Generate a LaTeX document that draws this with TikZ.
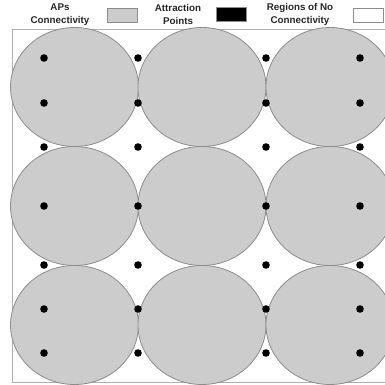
\documentclass[tikz,border=0pt]{standalone}
\usepackage{fontspec}
\setmainfont{Liberation Sans}
\usetikzlibrary{positioning}
\definecolor{zonegray}{gray}{0.80}
\definecolor{rimgray}{gray}{0.55}
\tikzset{
  apzone/.style ={fill=zonegray, draw=rimgray, line width=0.8pt},
  attr/.style   ={fill=black},
  frm/.style    ={draw=rimgray!70, line width=0.9pt},
  legtxt/.style ={font=\fontsize{9.8}{13.5}\selectfont\bfseries, align=center, text=black!85, inner sep=0pt},
  legbox/.style ={draw=rimgray, minimum width=30pt, minimum height=14pt, inner sep=0pt, line width=0.7pt},
}
\begin{document}
\begin{tikzpicture}[x=1pt, y=-1pt]
  \useasboundingbox (0,0) rectangle (385,385);
  \clip (0,0) rectangle (385,385);
  % legend
  \node[legtxt] (lap) at (60,14.5) {APs\\Connectivity};
  \node[legbox, fill=zonegray] (bap) at (122,15) {};
  \node[legtxt] (latt) at (178,14.5) {Attraction\\Points};
  \node[legbox, fill=black] (batt) at (231,14.5) {};
  \node[legtxt] (lnone) at (300,14.5) {Regions of No\\Connectivity};
  \node[legbox, fill=white] (bnone) at (368,15) {};
  % area
  \draw[frm] (12,29) rectangle (392,382);
  \foreach \cx in {74.5,202,330}
    \foreach \cy in {87,206,325}
      \draw[apzone] (\cx,\cy) ellipse [x radius=64, y radius=59.5];
  \foreach \px in {44,138,266,360}
    \foreach \py in {58,103,147,206,265,309,353}
      \fill[attr] (\px,\py) circle [radius=3.8];
\end{tikzpicture}
\end{document}
